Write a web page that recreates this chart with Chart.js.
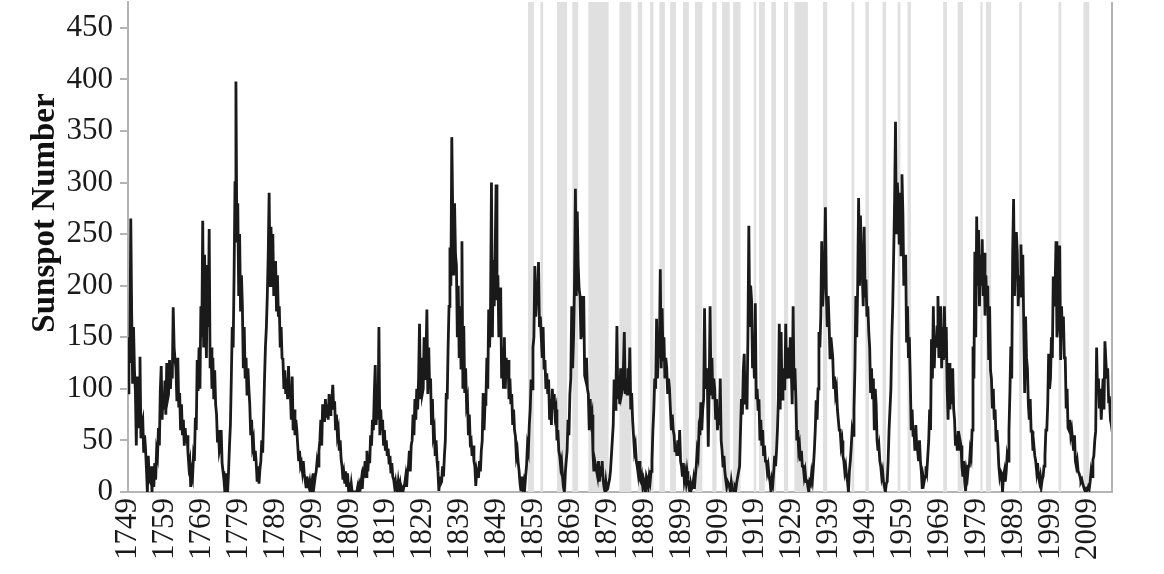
<!DOCTYPE html>
<html><head><meta charset="utf-8">
<script src="https://cdn.jsdelivr.net/npm/chart.js@4/dist/chart.umd.min.js"></script>
<style>html,body{margin:0;padding:0;background:#fff}canvas{display:block}</style>
</head><body>
<canvas id="c" width="1164" height="574"></canvas>
<script>
const startYear = 1749;
const pointsPerYear = 4;
const xMax = 2015.67;
const sunspots = [
96,150,125,265, 172,105,160,118, 98,45,112,62, 70,131,52,66, 70,38,55,42,
22,0,35,12, 10,25,0,20, 5,28,12,40, 35,62,45,98, 122,70,95,80,
108,75,125,90, 95,128,100,120, 110,179,140,128, 120,88,130,82, 96,60,85,55,
70,45,62,48, 55,38,25,30, 5,20,15,35, 30,72,60,128, 98,140,100,180,
150,263,140,230, 175,130,220,160, 255,120,140,100, 130,90,118,85, 75,48,60,40,
45,60,28,20, 12,0,18,5, 0,20,45,65, 110,160,140,210, 300,398,242,280,
190,250,175,210, 180,120,160,110, 130,95,120,100, 85,55,70,45, 50,30,40,28,
10,25,8,22, 30,50,38,72, 110,141,160,190, 230,290,200,257, 224,250,190,215,
224,175,210,170, 180,140,160,130, 128,100,118,95, 110,90,122,96, 95,70,112,60,
80,55,70,60, 45,30,40,25, 28,20,30,18, 12,5,15,8, 5,10,2,8,
0,18,8,15, 20,30,25,40, 50,70,45,85, 80,68,90,72, 85,70,95,75,
78,90,104,80, 88,60,75,55, 60,40,50,32, 25,12,18,8, 20,5,18,3,
5,0,8,0, 0,0,0,0, 0,5,0,8, 5,12,3,20, 18,30,15,40,
20,35,28,55, 45,70,60,96, 123,65,95,70, 160,55,80,60, 70,45,60,40,
50,35,42,28, 35,18,28,15, 12,5,10,2, 0,10,3,8, 0,3,0,5,
8,15,5,20, 25,40,20,45, 50,75,55,90, 70,100,80,110, 163,90,130,95,
100,150,110,130, 177,95,140,100, 110,65,90,55, 60,35,50,30, 20,1,15,8,
10,25,15,35, 50,96,90,140, 180,237,200,344, 271,210,280,230, 220,150,200,130,
180,120,243,100, 161,96,120,85, 90,55,75,48, 50,35,45,30, 25,6,20,15,
15,30,20,40, 50,96,60,85, 90,130,100,177, 140,180,300,150, 225,180,230,298,
186,210,150,197, 197,110,140,100, 150,100,130,110, 128,90,110,85, 95,65,80,60,
54,35,40,28, 20,8,1,15, 5,10,3,15, 25,45,40,65, 80,109,100,140,
150,219,170,190, 193,223,160,170, 150,130,160,120, 128,100,115,95, 109,70,90,65,
100,80,95,75, 80,50,60,40, 35,25,30,15, 5,0,18,30, 40,70,55,95,
110,180,120,150, 200,294,190,272, 220,197,190,148, 180,150,190,113, 109,130,100,95,
60,90,70,75, 40,20,30,25, 20,15,30,10, 25,15,30,12, 5,0,10,2,
3,8,12,20, 35,50,65,109, 80,100,161,90, 110,85,120,95, 100,120,155,95,
110,95,120,100, 140,80,96,70, 55,40,45,30, 25,18,30,12, 10,15,5,12,
8,0,15,12, 5,15,10,20, 30,60,80,110, 100,168,110,140, 130,216,120,178,
128,150,110,130, 120,95,110,100, 80,60,75,60, 55,40,45,35, 50,35,60,30,
25,15,28,12, 18,10,20,12, 5,0,8,3, 5,12,3,15, 25,40,35,60,
55,87,60,80, 90,178,100,120, 110,44,100,180, 95,130,90,110, 100,70,90,60,
80,65,110,50, 40,25,35,20, 12,5,10,8, 5,0,10,3, 2,0,5,3,
10,15,20,25, 60,90,75,118, 134,85,100,80, 150,258,160,200, 185,120,140,110,
183,90,100,80, 90,50,70,45, 60,35,45,30, 30,20,25,15, 10,0,12,8,
20,35,25,40, 60,90,163,80, 155,90,120,100, 100,163,110,120, 140,110,150,120,
85,180,100,120, 90,50,60,40, 45,30,40,25, 25,15,20,10, 12,5,0,10,
8,18,12,25, 40,60,89,70, 100,155,140,170, 243,180,200,220, 276,194,160,190,
163,130,150,140, 130,100,112,95, 100,80,70,60, 60,45,50,35, 30,20,25,15,
10,0,20,30, 44,60,55,80, 120,190,150,200, 285,200,268,230, 210,180,257,190,
206,170,180,155, 140,96,120,90, 110,60,100,85, 50,40,45,30, 25,15,20,10,
5,0,8,10, 30,60,60,100, 150,181,230,281, 359,250,300,280, 240,290,230,308,
270,200,209,230, 145,180,130,150, 110,60,80,55, 60,40,65,45, 40,30,50,30,
20,3,15,10, 15,25,20,35, 50,80,60,148, 110,180,120,150, 140,160,190,130,
150,180,120,160, 128,180,130,160, 100,70,125,80, 110,85,120,81, 70,45,55,40,
59,40,50,45, 25,15,30,10, 1,20,15,25, 25,40,35,60, 141,110,233,150,
267,200,254,180, 230,200,245,190, 232,171,210,180, 200,128,180,118, 110,81,100,70,
80,50,60,45, 25,15,20,18, 0,15,20,10, 20,35,30,60, 96,141,110,232,
284,190,230,252, 232,180,210,190, 240,190,230,161, 96,170,130,120, 85,70,90,59,
59,40,45,35, 30,20,28,15, 10,15,5,12, 15,25,35,60, 60,85,134,100,
110,150,130,209, 180,200,243,150, 160,200,239,128, 180,150,170,130, 130,81,100,62,
60,70,55,60, 50,40,55,30, 25,30,20,18, 15,10,12,8, 5,2,0,3,
2,5,3,10, 20,15,31,35, 50,59,140,96, 110,81,100,70, 90,110,80,146,
128,110,120,89, 90,70,65,58
];
const yearTicks = [1749,1759,1769,1779,1789,1799,1809,1819,1829,1839,1849,1859,1869,1879,1889,1899,1909,1919,1929,1939,1949,1959,1969,1979,1989,1999,2009];
const valueTicks = [0,50,100,150,200,250,300,350,400,450];
const recessionStarts = ['1857-06','1860-10','1865-04','1869-06','1873-10','1882-03','1887-03','1890-07','1893-01','1895-12','1899-06','1902-09','1907-05','1910-01','1913-01','1918-08','1920-01','1923-05','1926-10','1929-08','1937-05','1945-02','1948-11','1953-07','1957-08','1960-04','1969-12','1973-11','1980-01','1981-07','1990-07','2001-03','2007-12'];
const recessionEnds   = ['1858-12','1861-06','1867-12','1870-12','1879-03','1885-05','1888-04','1891-05','1894-06','1897-06','1900-12','1904-08','1908-06','1912-01','1914-12','1919-03','1921-07','1924-07','1927-11','1933-03','1938-06','1945-10','1949-10','1954-05','1958-04','1961-02','1970-11','1975-03','1980-07','1982-11','1991-03','2001-11','2009-06'];

const points = sunspots.map((v, i) => ({x: startYear + i / pointsPerYear, y: v}));
const ym = s => { const [y, m] = s.split('-').map(Number); return y + (m - 1) / 12; };

const AXIS_GRAY = '#b4b4b4';
const SERIF = "'Liberation Serif', 'Times New Roman', serif";

const recessionPlugin = {
  id: 'recessions',
  beforeDatasetsDraw(chart) {
    const {ctx, chartArea, scales: {x}} = chart;
    ctx.save();
    ctx.fillStyle = '#e0e0e0';
    recessionStarts.forEach((s, i) => {
      const x1 = x.getPixelForValue(ym(s));
      const x2 = x.getPixelForValue(ym(recessionEnds[i]) + 1 / 12);
      ctx.fillRect(x1, chartArea.top, x2 - x1, chartArea.bottom - chartArea.top);
    });
    ctx.restore();
  },
  afterDraw(chart) {
    const {ctx, chartArea} = chart;
    ctx.save();
    ctx.strokeStyle = AXIS_GRAY;
    ctx.lineWidth = 2;
    ctx.beginPath();
    ctx.moveTo(chartArea.right, chartArea.top);
    ctx.lineTo(chartArea.right, chartArea.bottom);
    ctx.stroke();
    ctx.translate(45, 213);
    ctx.rotate(-Math.PI / 2);
    ctx.fillStyle = '#111';
    ctx.font = "bold 33px " + SERIF;
    ctx.textAlign = 'center';
    ctx.textBaseline = 'middle';
    ctx.fillText('Sunspot Number', 0, 0);
    ctx.restore();
  }
};

new Chart(document.getElementById('c'), {
  type: 'line',
  data: { datasets: [{ data: points, borderColor: '#1a1a1a', borderWidth: 2.8, pointRadius: 0, tension: 0, fill: false }] },
  options: {
    responsive: false, animation: false, devicePixelRatio: 1,
    layout: { padding: { top: 2, right: 52, left: 0, bottom: 0 } },
    plugins: { legend: { display: false }, tooltip: { enabled: false } },
    scales: {
      x: {
        type: 'linear', min: startYear, max: xMax,
        afterBuildTicks: s => { s.ticks = yearTicks.map(v => ({value: v})); },
        afterFit: s => { s.height = 82; s.paddingLeft = 0; s.paddingRight = 0; },
        grid: { display: true, drawOnChartArea: false, drawTicks: false },
        border: { display: true, color: AXIS_GRAY, width: 2 },
        ticks: { autoSkip: false, minRotation: 90, maxRotation: 90, padding: 6, color: '#1a1a1a', font: { family: SERIF, size: 31 }, callback: v => String(v) }
      },
      y: {
        min: 0, max: 475,
        afterBuildTicks: s => { s.ticks = valueTicks.map(v => ({value: v})); },
        afterFit: s => { s.width = 128; s.paddingTop = 0; s.paddingBottom = 0; },
        grid: { display: true, drawOnChartArea: false, drawTicks: true, tickLength: 8, color: AXIS_GRAY, lineWidth: 2 },
        border: { display: true, color: AXIS_GRAY, width: 2 },
        ticks: { padding: 7, color: '#1a1a1a', font: { family: SERIF, size: 31 } }
      }
    }
  },
  plugins: [recessionPlugin]
});
</script>
</body></html>
